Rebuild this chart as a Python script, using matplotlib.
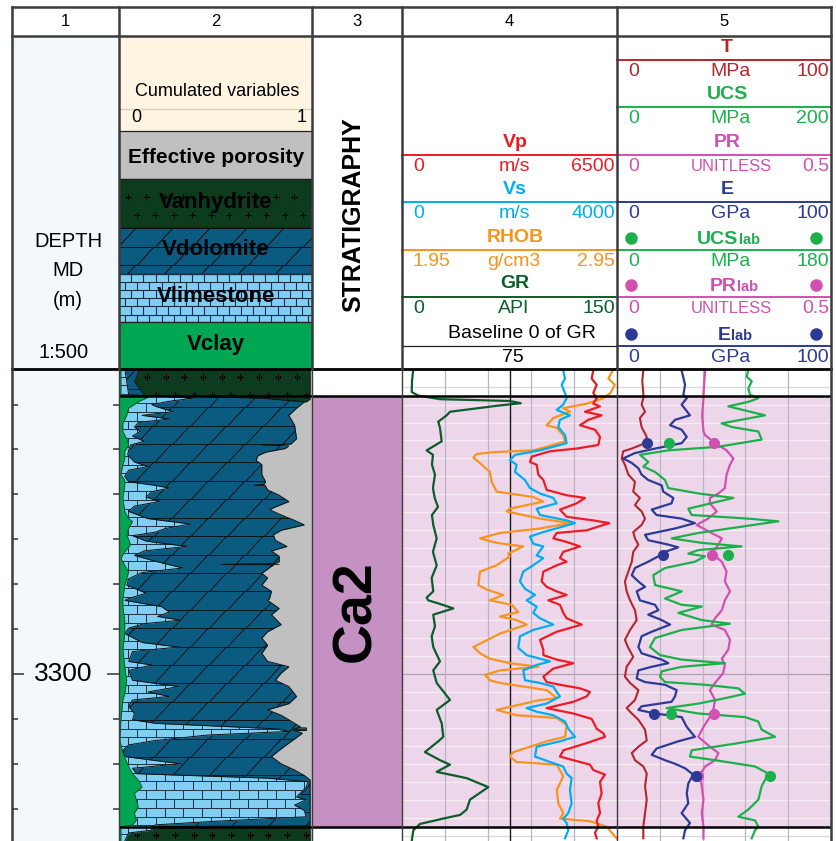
import numpy as np
import matplotlib
matplotlib.use("Agg")
import matplotlib.pyplot as plt
from matplotlib.collections import LineCollection
from matplotlib.patches import Rectangle
from matplotlib.path import Path

plt.rcParams['font.family'] = ['Liberation Sans', 'DejaVu Sans']

# ---------------------------------------------------------------- well data
zone_names = ['Ca2']
zone_top = [3269.0]
zone_base = [3317.0]

depth_major = [3300]
depth_minor = [3270, 3275, 3280, 3285, 3290, 3295, 3305, 3310, 3315]

vp_scale = (0, 6500)
vs_scale = (0, 4000)
rhob_scale = (1.95, 2.95)
gr_scale = (0, 150)
gr_baseline = 75
t_scale = (0, 100)
ucs_scale = (0, 200)
pr_scale = (0, 0.5)
e_scale = (0, 100)
ucs_lab_scale = (0, 180)
pr_lab_scale = (0, 0.5)
e_lab_scale = (0, 100)

# cumulated lithology fractions (left to right: clay, limestone, dolomite, anhydrite)
clay_depth = [3266.0, 3269.0, 3269.2, 3269.7, 3270.4, 3271.2, 3272.1, 3273.0, 3273.8, 3274.5,
              3275.2, 3276.0, 3276.7, 3277.8, 3278.4, 3279.0, 3280.4, 3281.9, 3282.7, 3283.0,
              3283.8, 3284.5, 3285.6, 3286.4, 3287.1, 3287.9, 3288.6, 3289.4, 3290.1, 3291.6,
              3292.5, 3294.0, 3295.5, 3297.3, 3299.2, 3300.7, 3302.2, 3302.9, 3305.1, 3307.4,
              3308.8, 3310.3, 3311.1, 3311.8, 3312.6, 3313.3, 3314.0, 3314.8, 3315.5, 3316.3,
              3316.8, 3317.0, 3318.6]
clay_cum = [0.01, 0.01, 0.15, 0.10, 0.05, 0.04, 0.02, 0.02, 0.04, 0.05,
            0.03, 0.03, 0.02, 0.01, 0.03, 0.03, 0.02, 0.03, 0.05, 0.07,
            0.05, 0.04, 0.06, 0.03, 0.01, 0.03, 0.05, 0.04, 0.03, 0.02,
            0.02, 0.03, 0.03, 0.02, 0.03, 0.04, 0.03, 0.02, 0.01, 0.005,
            0.02, 0.05, 0.07, 0.10, 0.12, 0.08, 0.09, 0.10, 0.08, 0.09,
            0.07, 0.01, 0.01]

lime_depth = [3266.0, 3268.9, 3269.2, 3269.3, 3269.6, 3270.0, 3270.2, 3270.8, 3271.2, 3271.6,
              3272.0, 3272.5, 3273.0, 3273.5, 3274.1, 3274.5, 3275.1, 3275.6, 3276.4, 3276.9,
              3277.3, 3278.0, 3278.6, 3279.0, 3279.3, 3279.7, 3280.3, 3280.8, 3281.3, 3281.9,
              3282.7, 3283.3, 3283.8, 3284.2, 3284.6, 3285.2, 3285.8, 3286.3, 3286.8, 3287.4,
              3288.2, 3288.7, 3289.4, 3290.1, 3291.0, 3291.6,
              3291.8, 3292.5, 3293.1, 3293.6, 3294.0, 3294.4, 3294.9, 3295.5, 3296.5, 3297.0,
              3297.5, 3298.6, 3299.0, 3299.6, 3300.7, 3301.4, 3302.0, 3302.5, 3302.9, 3303.6,
              3304.4, 3305.1, 3305.5, 3306.1, 3306.4, 3306.8, 3307.4, 3307.9, 3308.5, 3309.2,
              3310.0, 3310.5, 3311.1, 3311.6, 3312.0, 3312.6, 3313.7, 3314.0, 3314.6, 3315.2,
              3315.9, 3316.4, 3316.8, 3317.0, 3317.4, 3317.7, 3318.6]
lime_cum = [0.03, 0.05, 0.32, 0.38, 0.27, 0.17, 0.19, 0.28, 0.12, 0.26,
            0.10, 0.08, 0.11, 0.07, 0.13, 0.06, 0.05, 0.045, 0.08, 0.15,
            0.05, 0.03, 0.05, 0.19, 0.26, 0.17, 0.14, 0.21, 0.08, 0.05,
            0.15, 0.37, 0.24, 0.19, 0.07, 0.14, 0.35, 0.13, 0.08, 0.18,
            0.33, 0.12, 0.05, 0.04, 0.14, 0.05,
            0.03, 0.22, 0.26, 0.20, 0.32, 0.13, 0.05, 0.03, 0.12, 0.31,
            0.07, 0.05, 0.17, 0.05, 0.07, 0.31, 0.15, 0.26, 0.07, 0.05,
            0.08, 0.07, 0.19, 0.81, 0.88, 0.46, 0.19, 0.05, 0.02, 0.03,
            0.32, 0.07, 0.09, 0.77, 0.98, 0.97, 0.92, 0.97, 0.91, 0.96,
            0.97, 0.50, 0.19, 0.17, 0.17, 0.05, 0.03]

dolo_depth = [3266.0, 3267.4, 3268.9, 3269.0, 3269.1, 3269.3, 3269.7, 3270.4, 3271.2, 3272.3,
              3273.8, 3274.4, 3274.5, 3274.6, 3274.9, 3275.3, 3275.7, 3276.2, 3276.7, 3277.8,
              3278.6, 3278.9, 3279.0, 3279.1, 3279.5, 3280.1, 3280.8, 3281.4, 3281.7, 3282.2,
              3282.9, 3283.4, 3284.0, 3284.5, 3285.1, 3285.8, 3286.3, 3286.9, 3287.5, 3287.7,
              3287.8, 3287.9, 3288.0, 3288.8, 3289.3, 3290.1, 3290.8, 3291.6, 3291.8, 3292.7,
              3293.4, 3294.5, 3295.3, 3296.0, 3296.8, 3297.7, 3298.6, 3299.2, 3299.9, 3300.7,
              3301.4, 3302.5, 3303.3, 3304.0, 3304.6, 3305.1, 3305.9, 3306.2, 3306.6, 3307.7,
              3308.5, 3309.2, 3310.0, 3310.7, 3311.3, 3311.8, 3316.9, 3317.0, 3317.4, 3317.7,
              3318.6]
dolo_cum = [0.11, 0.08, 0.13, 0.13, 0.40, 0.75, 0.96, 0.92, 0.88, 0.91,
            0.92, 0.89, 0.74, 0.88, 0.86, 0.76, 0.72, 0.71, 0.74, 0.74,
            0.76, 0.75, 0.70, 0.76, 0.77, 0.83, 0.88, 0.81, 0.78, 0.83,
            0.91, 0.96, 0.84, 0.80, 0.81, 0.87, 0.79, 0.83, 0.83, 0.81,
            0.53, 0.80, 0.79, 0.74, 0.77, 0.74, 0.79, 0.78, 0.77, 0.83,
            0.79, 0.84, 0.77, 0.74, 0.77, 0.74, 0.77, 0.88, 0.84, 0.81,
            0.88, 0.92, 0.88, 0.77, 0.84, 0.88, 0.94, 0.90, 0.95, 0.88,
            0.83, 0.79, 0.84, 0.91, 0.96, 0.99, 0.99, 0.17, 0.17, 0.05,
            0.03]

anhy_depth = [3266.0, 3269.0, 3269.4, 3269.7, 3269.8, 3274.3, 3274.5, 3274.7, 3278.8, 3279.0,
              3279.2, 3287.6, 3287.8, 3288.0, 3305.8, 3306.0, 3306.3, 3306.6, 3316.2, 3316.9,
              3318.6]
anhy_cum = [0.99, 0.99, 0.99, 0.97, 0.0, 0.0, 0.86, 0.0, 0.0, 0.76,
            0.0, 0.0, 0.83, 0.0, 0.0, 0.97, 0.97, 0.0, 0.0, 0.99,
            0.99]

# track 4 logs
vp_depth = [3266.2, 3267.1, 3267.8, 3268.7, 3269.3, 3269.9, 3270.2, 3270.8, 3271.2, 3271.7,
            3272.3, 3272.8, 3273.6, 3274.5, 3274.9, 3275.2, 3275.8, 3276.4, 3276.7, 3277.8,
            3278.4, 3279.5, 3280.1, 3280.4, 3281.0, 3281.7, 3282.5, 3282.9, 3283.2, 3284.0,
            3284.3, 3284.9, 3285.3, 3285.8, 3286.4, 3287.1, 3287.5, 3287.9, 3288.6, 3289.7,
            3290.3, 3290.8, 3291.2, 3291.8, 3292.3, 3293.2, 3293.8, 3294.5, 3295.3, 3296.2,
            3297.3, 3297.9, 3298.4, 3298.8, 3299.4, 3300.3, 3300.9, 3301.2, 3301.6, 3302.0,
            3302.5, 3303.1, 3303.8, 3304.4, 3305.0, 3306.1, 3306.6, 3307.0, 3307.7, 3308.5,
            3309.2, 3309.6, 3310.1, 3310.7, 3311.2, 3312.0, 3313.3, 3314.4, 3315.5, 3316.3,
            3317.0, 3317.7, 3318.3]
vp = [5783, 5734, 5885, 5783, 5885, 5783, 5986, 5532, 6036, 5633,
      5381, 5834, 5986, 5935, 5280, 4474, 3921, 3869, 4071, 4122,
      4273, 4374, 4978, 5532, 5280, 4776, 4978, 5783, 6267, 5583,
      4676, 4575, 4978, 5381, 4877, 4776, 4978, 4676, 4273, 4223,
      4374, 4676, 4978, 4424, 4776, 4877, 4978, 5432, 4676, 4172,
      4273, 4273, 4676, 5179, 4575, 4273, 4374, 4776, 5381, 5683,
      5583, 5179, 4374, 5179, 5734, 5885, 6086, 6136, 5583, 4877,
      4776, 5179, 5683, 5783, 6136, 5986, 6036, 5935, 5986, 5885,
      5935, 5834, 5885]

vs_depth = [3266.2, 3267.1, 3267.8, 3268.7, 3269.3, 3270.0, 3270.6, 3271.2, 3271.7, 3272.5,
            3273.4, 3274.3, 3275.1, 3275.6, 3276.2, 3276.7, 3277.5, 3278.4, 3279.3, 3279.9,
            3280.4, 3281.0, 3281.6, 3282.3, 3282.9, 3283.2, 3284.2, 3284.7, 3285.5, 3285.8,
            3286.8, 3287.1, 3287.9, 3288.6, 3289.7, 3290.5, 3291.2, 3291.8, 3292.5, 3293.2,
            3293.8, 3294.5, 3295.1, 3295.8, 3297.1, 3297.9, 3298.6, 3299.0, 3299.6, 3300.7,
            3301.0, 3301.4, 3302.0, 3302.5, 3303.3, 3303.8, 3304.2, 3304.6, 3305.3, 3306.1,
            3307.0, 3307.5, 3308.1, 3309.2, 3309.8, 3310.3, 3311.1, 3311.6, 3312.9, 3314.4,
            3315.5, 3316.1, 3316.6, 3317.4, 3318.3]
vs = [3000, 3032, 2970, 3032, 3063, 3000, 2877, 3125, 2939, 2907,
      3032, 3063, 2567, 2102, 2009, 2133, 2102, 2288, 2381, 2567,
      2814, 2877, 2505, 2567, 3063, 3218, 2628, 2381, 2442, 2628,
      2505, 2628, 2442, 2256, 2195, 2288, 2474, 2319, 2505, 2442,
      2567, 2814, 2442, 2195, 2163, 2319, 2753, 2505, 2256, 2288,
      2567, 2814, 2877, 2939, 2691, 2319, 2505, 2814, 3032, 3094,
      3218, 2939, 2505, 2474, 2753, 3000, 3063, 3156, 3125, 3156,
      3094, 3000, 3063, 3094, 3032]

rhob_depth = [3266.2, 3267.1, 3267.8, 3268.7, 3269.3, 3269.9, 3270.4, 3270.8, 3271.5, 3272.3,
              3272.6, 3273.4, 3274.1, 3274.7, 3275.1, 3275.3, 3275.5, 3275.9, 3276.7, 3277.5,
              3278.6, 3279.7, 3280.3, 3280.8, 3281.6, 3281.9, 3282.7, 3283.2, 3283.8, 3284.3,
              3284.9, 3285.4, 3285.8, 3286.6, 3286.9, 3287.9, 3288.6, 3290.1, 3290.6, 3291.2,
              3291.8, 3292.3, 3293.1, 3293.6, 3294.0, 3294.5, 3295.5, 3297.0, 3297.7, 3298.3,
              3298.8, 3299.2, 3299.6, 3300.1, 3300.7, 3301.0, 3301.8, 3302.7, 3302.9, 3304.0,
              3304.6, 3304.9, 3305.7, 3307.0, 3307.5, 3308.7, 3309.2, 3309.8, 3310.1, 3311.4,
              3312.9, 3314.4, 3315.5, 3316.1, 3316.4, 3317.0, 3318.3, 3318.7]
rhob = [2.93, 2.91, 2.94, 2.92, 2.886, 2.809, 2.700, 2.731, 2.654, 2.623,
        2.670, 2.700, 2.708, 2.623, 2.561, 2.375, 2.297, 2.282, 2.321, 2.359,
        2.367, 2.390, 2.561, 2.607, 2.452, 2.437, 2.592, 2.731, 2.592, 2.406,
        2.313, 2.390, 2.514, 2.444, 2.452, 2.390, 2.313, 2.305, 2.344, 2.421,
        2.359, 2.460, 2.491, 2.406, 2.483, 2.530, 2.406, 2.282, 2.313, 2.359,
        2.452, 2.584, 2.406, 2.336, 2.359, 2.406, 2.623, 2.670, 2.592, 2.390,
        2.483, 2.670, 2.716, 2.708, 2.623, 2.468, 2.452, 2.483, 2.670, 2.700,
        2.670, 2.677, 2.700, 2.685, 2.824, 2.902, 2.948, 2.99]

gr_depth = [3266.0, 3267.3, 3268.6, 3269.0, 3269.4, 3269.6, 3269.85, 3270.1, 3270.8, 3271.2,
            3271.9, 3272.6, 3274.1, 3275.1, 3275.6, 3276.7, 3277.8, 3279.3, 3280.4, 3281.4,
            3282.3, 3283.4, 3284.9, 3286.4, 3287.9, 3289.3, 3290.8, 3291.5, 3291.8, 3292.2,
            3292.7, 3293.4, 3294.7, 3295.8, 3297.0, 3298.6, 3299.6, 3301.0, 3302.9, 3304.0,
            3305.5, 3307.0, 3307.5, 3308.7, 3309.6, 3310.1, 3310.9, 3311.6, 3312.6, 3314.0,
            3315.1, 3315.7, 3316.1, 3316.7, 3317.4, 3318.6]
gr = [7.9, 7.0, 6.8, 11.2, 26.5, 75, 82.8, 68, 33.5, 31.2,
      25.3, 26.5, 27.7, 17.2, 21.6, 20.9, 23, 21.6, 22.8, 25.1,
      20.9, 21.8, 24.2, 21.6, 24.2, 20.7, 21.8, 17.2, 18.3, 26.5,
      35.8, 21.8, 23, 20.7, 21.8, 26.5, 21.8, 24.2, 33.5, 24.2,
      27.7, 28.8, 25.3, 16, 26.5, 33.5, 24.2, 45.1, 60.2, 47.4,
      45.1, 40.5, 28.8, 12.6, 7.9, 6.8]

# track 5 geomechanics
t_depth = [3266.2, 3267.4, 3268.7, 3269.3, 3270.0, 3270.8, 3271.5, 3272.5, 3273.6, 3274.3,
           3274.9, 3275.2, 3276.0, 3276.7, 3277.8, 3278.6, 3279.7, 3280.4, 3281.2, 3281.9,
           3282.7, 3283.4, 3284.2, 3284.9, 3285.6, 3286.4, 3287.5, 3288.6, 3289.7, 3290.8,
           3291.8, 3292.9, 3294.0, 3295.1, 3296.2, 3297.1, 3298.1, 3299.2, 3300.3, 3301.0,
           3301.8, 3302.9, 3303.8, 3304.4, 3305.1, 3306.2, 3307.4, 3308.1, 3308.8, 3309.6,
           3310.3, 3311.1, 3312.5, 3314.0, 3315.5, 3317.0, 3318.3]
t_mpa = [12.3, 11.8, 12.3, 12.3, 11.5, 13.1, 10.7, 11.5, 13.9, 13.1,
         6.9, 2.9, 2.2, 3.7, 5.3, 8.4, 7.6, 10.7, 8.4, 11.5,
         13.1, 11.5, 7.6, 8.4, 10.0, 7.6, 6.9, 5.3, 3.7, 4.5,
         6.1, 8.4, 9.2, 6.1, 3.7, 5.3, 7.6, 4.5, 3.7, 6.1,
         10.0, 8.4, 4.5, 6.9, 10.0, 13.1, 13.9, 10.0, 6.9, 8.4,
         12.3, 13.9, 13.1, 13.9, 13.1, 12.3, 12.3]

e_depth = [3266.2, 3267.8, 3268.9, 3269.3, 3270.0, 3271.2, 3271.7, 3272.3, 3272.8, 3273.6,
           3274.3, 3274.9, 3275.4, 3276.0, 3276.5, 3277.1, 3277.8, 3278.4, 3279.0, 3279.7,
           3280.4, 3281.0, 3281.7, 3282.3, 3282.7, 3283.2, 3283.8, 3284.5, 3285.1, 3285.6,
           3285.9, 3286.4, 3286.9, 3287.5, 3288.2, 3289.0, 3289.7, 3290.3, 3290.8, 3291.8,
           3292.3, 3292.9, 3293.4, 3294.0, 3294.5, 3295.3, 3295.8, 3297.0, 3297.7, 3298.4,
           3298.8, 3299.2, 3299.6, 3300.5, 3300.9, 3301.2, 3301.8, 3302.5, 3303.1, 3303.6,
           3304.0, 3304.4, 3304.8, 3305.9, 3307.0, 3307.5, 3308.3, 3309.0, 3309.6, 3310.0,
           3310.5, 3311.2, 3312.2, 3313.3, 3314.4, 3315.5, 3316.6, 3317.4, 3318.3]
e_gpa = [30.2, 31.8, 31.0, 32.6, 30.2, 34.1, 27.1, 24.8, 30.2, 32.6,
         30.2, 17.8, 8.4, 2.9, 6.9, 10.0, 11.5, 14.6, 20.9, 21.6,
         26.3, 25.5, 16.2, 18.5, 30.2, 36.4, 27.1, 13.1, 14.6, 24.0,
         28.6, 22.4, 19.3, 14.6, 8.4, 6.9, 10.0, 13.1, 9.2, 10.7,
         17.8, 19.3, 14.6, 20.9, 24.8, 16.2, 11.5, 10.0, 11.5, 20.9,
         24.0, 16.2, 10.0, 9.2, 13.1, 22.4, 27.9, 27.1, 25.5, 11.5,
         10.0, 17.8, 30.2, 32.6, 36.4, 28.6, 18.5, 16.2, 22.4, 27.1,
         31.8, 35.6, 33.3, 32.6, 33.3, 30.2, 34.1, 31.8, 31.0]

pr_depth = [3266.2, 3267.4, 3268.9, 3269.3, 3271.2, 3273.0, 3273.4, 3274.3, 3275.1, 3276.0,
            3276.7, 3277.8, 3279.3, 3279.9, 3280.4, 3281.0, 3281.9, 3282.7, 3283.4, 3284.2,
            3284.9, 3285.6, 3286.6, 3287.5, 3288.6, 3289.7, 3290.8, 3291.8, 3292.9, 3293.8,
            3294.5, 3295.1, 3296.2, 3297.3, 3298.3, 3299.0, 3299.9, 3301.0, 3301.8, 3302.9,
            3304.0, 3304.8, 3305.9, 3307.0, 3308.1, 3308.8, 3309.6, 3310.3, 3311.2, 3312.5,
            3314.0, 3315.5, 3317.0, 3318.3]
pr = [0.206, 0.204, 0.202, 0.202, 0.199, 0.202, 0.206, 0.229, 0.256, 0.272,
      0.264, 0.256, 0.252, 0.237, 0.217, 0.217, 0.233, 0.213, 0.186, 0.217,
      0.245, 0.237, 0.221, 0.245, 0.256, 0.252, 0.264, 0.252, 0.245, 0.229,
      0.221, 0.252, 0.264, 0.260, 0.245, 0.252, 0.248, 0.229, 0.217, 0.229,
      0.225, 0.217, 0.202, 0.190, 0.217, 0.237, 0.229, 0.206, 0.194, 0.198,
      0.202, 0.198, 0.202, 0.202]

ucs_depth = [3266.2, 3266.9, 3267.4, 3268.2, 3268.9, 3269.3, 3269.7, 3270.2, 3271.2, 3272.1,
             3272.5, 3273.0, 3273.9, 3274.7, 3275.1, 3275.6, 3276.4, 3276.9, 3277.5, 3278.4,
             3279.3, 3279.9, 3280.4, 3281.6, 3282.3, 3282.7, 3283.0, 3284.3, 3284.9, 3285.4,
             3285.8, 3286.2, 3286.6, 3286.9, 3287.5, 3288.2, 3289.0, 3290.1, 3290.8, 3291.6,
             3292.3, 3292.5, 3293.2, 3294.0, 3294.4, 3295.1, 3296.0, 3297.0, 3297.9, 3298.4,
             3298.8, 3299.2, 3299.7, 3300.3, 3300.9, 3301.2, 3301.6, 3302.2, 3302.7, 3303.3,
             3303.8, 3304.4, 3304.8, 3305.3, 3306.2, 3307.0, 3307.7, 3308.5, 3309.2, 3309.6,
             3310.3, 3311.1, 3312.5, 3314.0, 3315.1, 3315.9, 3316.3, 3317.0, 3317.4, 3318.3]
ucs = [122.7, 121.2, 125.9, 122.7, 124.3, 132.1, 122.7, 104.0, 138.3, 97.8,
       107.2, 132.1, 135.2, 94.7, 47.9, 21.5, 29.3, 24.6, 35.5, 44.9,
       47.9, 76.0, 108.7, 66.6, 69.8, 122.7, 150.8, 76.0, 51.1, 79.2,
       116.5, 76.0, 66.6, 82.2, 72.9, 44.9, 33.9, 35.5, 60.5, 44.9,
       60.5, 79.2, 57.3, 79.2, 105.6, 60.5, 35.5, 30.8, 40.2, 60.5,
       100.9, 60.5, 41.8, 40.2, 44.9, 82.2, 113.4, 119.6, 100.9, 76.0,
       46.4, 76.0, 119.6, 132.1, 135.2, 147.7, 113.4, 69.8, 68.2, 91.6,
       129.0, 141.4, 135.2, 132.1, 122.7, 113.4, 129.0, 132.1, 129.0, 125.9]

# core laboratory measurements
lab_depth = [3274.3, 3286.7, 3304.5, 3311.4]
ucs_lab = [43.7, 93.6, 45.4, 128.7]
pr_lab = [0.227, 0.221, 0.227, 0.190]
e_lab = [14.2, 21.6, 17.4, 36.9]

# ---------------------------------------------------------------- styling
C_VP, C_VS, C_RHOB, C_GR = '#ed1c24', '#00aeef', '#f7941d', '#0b5d2a'
C_T, C_UCS, C_PR, C_E = '#b3262c', '#1cb04c', '#d250b0', '#2d3a95'
C_PORO, C_ANHY, C_DOLO, C_LIME, C_CLAY = '#c0c0c0', '#0c3b1e', '#0b5a80', '#80cff2', '#00a651'
C_STRAT, C_PINK, C_DEPTHBG, C_CREAM = '#c591c3', '#edd6ea', '#f3f8fd', '#fdf5e2'
C_FRAME = '#3c3c3c'

W, H = 836, 841
fig = plt.figure(figsize=(W / 100, H / 100), dpi=100)

COL_X = [12, 119, 312, 402, 617, 831]
Y_TOP, Y_HEAD, Y_DATA = 7, 36, 369
DEPTH_TOP, DEPTH_BASE = 3266.04, 3318.6


def px_axes(x0, x1, y0, y1, z):
    ax = fig.add_axes([x0 / W, 1 - y1 / H, (x1 - x0) / W, (y1 - y0) / H])
    ax.set_zorder(z)
    ax.set_axis_off()
    return ax


def track(col, xlim=(0, 1), z=1):
    ax = px_axes(COL_X[col], COL_X[col + 1], Y_DATA, H, z)
    ax.set_xlim(*xlim)
    ax.set_ylim(DEPTH_BASE, DEPTH_TOP)
    return ax


def clip_to(artist, fill):
    paths = fill.get_paths()
    path = Path.make_compound_path(*paths) if len(paths) > 1 else paths[0]
    artist.set_clip_path(path, fill.get_transform())


def dolomite_segments(y0, y1, x0, x1, row, step, width):
    segs, k, y = [], 0, y0
    while y < y1:
        segs.append([(x0, y), (x1, y)])
        xs = x0 - step + (step / 2) * (k % 2)
        while xs < x1:
            segs.append([(xs, y + row), (xs + width, y)])
            xs += step
        y += row
        k += 1
    return segs


def brick_segments(y0, y1, x0, x1, row, step):
    segs, k, y = [], 0, y0
    while y < y1:
        segs.append([(x0, y), (x1, y)])
        xs = x0 + (step / 2) * (k % 2)
        while xs < x1:
            segs.append([(xs, y), (xs, y + row)])
            xs += step
        y += row
        k += 1
    return segs


def cross_points(y0, y1, x0, x1, row, step):
    pts, k, y = [], 0, y0
    while y < y1:
        xs = x0 + (step / 2) * (k % 2)
        while xs < x1:
            pts.append((xs, y))
            xs += step
        y += row
        k += 1
    return np.array(pts)


# ---------------------------------------------------------------- header canvas
bg = px_axes(0, W, 0, H, 0)
bg.set_xlim(0, W)
bg.set_ylim(H, 0)


def htext(x, y, s, size=14, color='black', weight='normal', ha='center', **kw):
    bg.text(x, y, s, fontsize=size, color=color, fontweight=weight, ha=ha, va='center', **kw)


bg.add_patch(Rectangle((COL_X[0], Y_HEAD), COL_X[1] - COL_X[0], H - Y_HEAD,
                       facecolor=C_DEPTHBG, lw=0))
for i, lab in enumerate(['1', '2', '3', '4', '5']):
    htext((COL_X[i] + COL_X[i + 1]) / 2, 21.5, lab, size=12)

# track 1 header
htext(68, 241, 'DEPTH', size=14.5)
htext(68, 271, 'MD', size=14.5)
htext(68, 300, '(m)', size=14.5)
htext(64, 352, '1:500', size=14.5)

# track 2 header (lithology legend)
bg.add_patch(Rectangle((119, Y_HEAD), 193, 131 - Y_HEAD, facecolor=C_CREAM, lw=0))
htext(217, 91, 'Cumulated variables', size=13)
bg.plot([119, 312], [108.5, 108.5], color='#d8cfba', lw=1.0)
htext(131, 117.5, f'{0:g}', size=13, ha='left')
htext(307, 117.5, f'{1:g}', size=13, ha='right')

litho_labels = ['Effective porosity', 'Vanhydrite', 'Vdolomite', 'Vlimestone', 'Vclay']
litho_colors = [C_PORO, C_ANHY, C_DOLO, C_LIME, C_CLAY]
box_edges = [131, 178.5, 226.5, 274, 321.5, 369]
boxes = []
for i, (lab, c) in enumerate(zip(litho_labels, litho_colors)):
    y0, y1 = box_edges[i], box_edges[i + 1]
    r = Rectangle((119, y0), 193, y1 - y0, facecolor=c, edgecolor='#222222', lw=0.9, zorder=1)
    bg.add_patch(r)
    boxes.append(r)

pts = cross_points(196.7, 226, 127.7, 310, 18.3, 18.5)
sc = bg.scatter(pts[:, 0], pts[:, 1], marker='+', s=16, c='black', linewidths=0.8, zorder=2)
sc.set_clip_path(boxes[1])
lc = LineCollection(dolomite_segments(228, 274, 119, 312, 18.5, 37, 17),
                    colors='#0d0d0d', linewidths=0.7, zorder=2)
bg.add_collection(lc)
lc.set_clip_path(boxes[2])
lc = LineCollection(brick_segments(274, 321.5, 119, 312, 8.1, 12.2),
                    colors='#1c2f44', linewidths=0.8, zorder=2)
bg.add_collection(lc)
lc.set_clip_path(boxes[3])

label_y = [157, 202.5, 249, 296.5, 344]
for lab, y in zip(litho_labels, label_y):
    htext(216, y, lab, size=15 if lab == 'Effective porosity' else 16, weight='bold', zorder=3)

# track 3 header
htext(353, 215, 'STRATIGRAPHY', size=18, weight='bold', rotation=90)

# track 4 header
col4_rows = [('Vp', C_VP, vp_scale, 'm/s', 155),
             ('Vs', C_VS, vs_scale, 'm/s', 202),
             ('RHOB', C_RHOB, rhob_scale, 'g/cm3', 250),
             ('GR', C_GR, gr_scale, 'API', 297)]
for name, c, sc_, unit, ly in col4_rows:
    bg.plot([402, 617], [ly, ly], color=c, lw=1.4)
    htext(515, ly - 13, name, color=c, weight='bold')
    htext(413, ly + 11.5, f'{sc_[0]:g}', color=c, ha='left')
    htext(514, ly + 11.5, unit, color=c)
    htext(615, ly + 11.5, f'{sc_[1]:g}', color=c, ha='right')
htext(522, 333, 'Baseline 0 of GR')
bg.plot([402, 617], [346, 346], color='#222222', lw=0.9)
htext(513, 357.5, f'{gr_baseline:g}')

# track 5 header
col5_rows = [('T', '', C_T, t_scale, 'MPa', 60),
             ('UCS', '', C_UCS, ucs_scale, 'MPa', 107),
             ('PR', '', C_PR, pr_scale, 'UNITLESS', 155),
             ('E', '', C_E, e_scale, 'GPa', 202),
             ('UCS', 'lab', C_UCS, ucs_lab_scale, 'MPa', 250),
             ('PR', 'lab', C_PR, pr_lab_scale, 'UNITLESS', 297),
             ('E', 'lab', C_E, e_lab_scale, 'GPa', 346)]
lab_join = {'UCS': 738, 'PR': 737, 'E': 731}
for name, sub, c, sc_, unit, ly in col5_rows:
    bg.plot([617, 831], [ly, ly], color=c, lw=1.4)
    if sub:
        yb = ly - 13 + 7
        bg.text(lab_join[name], yb, name, fontsize=14, fontweight='bold', color=c,
                ha='right', va='baseline')
        bg.text(lab_join[name] + 0.5, yb, sub, fontsize=10.5, fontweight='bold', color=c,
                ha='left', va='baseline')
        bg.plot([631, 816], [ly - 12, ly - 12], 'o', color=c, ms=8, ls='none')
    else:
        htext(727, ly - 12.5, name, color=c, weight='bold')
    usize = 12 if unit == 'UNITLESS' else 14
    htext(628, ly + 11.5, f'{sc_[0]:g}', color=c, ha='left')
    htext(731, ly + 11.5, unit, color=c, size=usize)
    htext(829, ly + 11.5, f'{sc_[1]:g}', color=c, ha='right')

# ---------------------------------------------------------------- track 1: depth
ax1 = track(0)
ax1.set_axis_on()
ax1.patch.set_visible(False)
for s in ax1.spines.values():
    s.set_visible(False)
ax1.set_xticks([])
ax1.set_yticks(depth_major)
ax1.set_yticks(depth_minor, minor=True)
ax1.tick_params(axis='y', which='both', left=True, right=True, direction='in',
                color='#333333', width=1.1, labelleft=False, labelright=False)
ax1.tick_params(axis='y', which='major', length=8.5)
ax1.tick_params(axis='y', which='minor', length=4.5)
for d in depth_major:
    ax1.text(0.48, d, f'{d}', transform=ax1.get_yaxis_transform(),
             ha='center', va='center', fontsize=19)

# ---------------------------------------------------------------- track 2: lithology
ax2 = track(1)
ax2.axvspan(0, 1, color=C_PORO, lw=0, zorder=0)

f_anhy = ax2.fill_betweenx(anhy_depth, 0, anhy_cum, color=C_ANHY, lw=0, zorder=1)
cp = cross_points(3266.9, DEPTH_BASE + 1, 0.047, 1.0, 2.04, 0.097)
sc = ax2.scatter(cp[:, 0], cp[:, 1], marker='+', s=14, c='black', linewidths=0.8, zorder=1.1)
clip_to(sc, f_anhy)
ax2.plot(anhy_cum, anhy_depth, color='#111111', lw=0.6, zorder=1.2)

f_dolo = ax2.fill_betweenx(dolo_depth, 0, dolo_cum, color=C_DOLO, lw=0, zorder=2)
lc = LineCollection(dolomite_segments(3264.15, DEPTH_BASE + 2, -0.1, 1.1, 2.05, 0.19, 0.088),
                    colors='#0a0a0a', linewidths=0.6, zorder=2.1)
ax2.add_collection(lc)
clip_to(lc, f_dolo)
ax2.plot(dolo_cum, dolo_depth, color='#111111', lw=0.7, zorder=2.2)

f_lime = ax2.fill_betweenx(lime_depth, 0, lime_cum, color=C_LIME, lw=0, zorder=3)
lc = LineCollection(brick_segments(3265.9, DEPTH_BASE + 1, -0.05, 1.05, 0.98, 0.096),
                    colors='#1c2f44', linewidths=0.7, zorder=3.1)
ax2.add_collection(lc)
clip_to(lc, f_lime)
ax2.plot(lime_cum, lime_depth, color='#111111', lw=0.7, zorder=3.2)

ax2.fill_betweenx(clay_depth, 0, clay_cum, color=C_CLAY, lw=0, zorder=4)
ax2.plot(clay_cum, clay_depth, color='#0d3d1d', lw=0.5, zorder=4.1)

# ---------------------------------------------------------------- track 3: stratigraphy
ax3 = track(2)
for name, top, base in zip(zone_names, zone_top, zone_base):
    ax3.axhspan(top, base, color=C_STRAT, lw=0)
    ax3.text(0.49, (top + base) / 2, name, rotation=90, fontsize=40, fontweight='bold',
             ha='center', va='center')


# ---------------------------------------------------------------- tracks 4 & 5: grids
def grid_track(col):
    ax = track(col)
    for top, base in zip(zone_top, zone_base):
        ax.axhspan(top, base, color=C_PINK, lw=0, zorder=0)
    for d in np.arange(3268, 3319, 2):
        inside = any(t <= d <= b for t, b in zip(zone_top, zone_base))
        if d % 50 == 0:
            c = '#a9a2b3'
        elif inside:
            c = '#f7eef5'
        else:
            c = '#dadade'
        ax.axhline(d, color=c, lw=0.9, zorder=1)
    for f in np.linspace(0, 1, 6)[1:-1]:
        ax.axvline(f, color='#bdb3c7', lw=0.9, zorder=1.5)
    return ax


grid_track(3)
a = track(3, gr_scale)
a.axvline(gr_baseline, color='#1a1a1a', lw=1.0, zorder=1)
a.plot(gr, gr_depth, color=C_GR, lw=1.6, zorder=2)
track(3, rhob_scale).plot(rhob, rhob_depth, color=C_RHOB, lw=1.6)
track(3, vs_scale).plot(vs, vs_depth, color=C_VS, lw=1.6)
track(3, vp_scale).plot(vp, vp_depth, color=C_VP, lw=1.6)

grid_track(4)
track(4, t_scale).plot(t_mpa, t_depth, color=C_T, lw=1.5)
track(4, e_scale).plot(e_gpa, e_depth, color=C_E, lw=1.6)
track(4, pr_scale).plot(pr, pr_depth, color=C_PR, lw=1.6)
track(4, ucs_scale).plot(ucs, ucs_depth, color=C_UCS, lw=1.6)
track(4, ucs_lab_scale).plot(ucs_lab, lab_depth, 'o', color=C_UCS, ms=7)
track(4, pr_lab_scale).plot(pr_lab, lab_depth, 'o', color=C_PR, ms=7)
track(4, e_lab_scale).plot(e_lab, lab_depth, 'o', color=C_E, ms=7)

# zone boundaries across the data tracks
zl = px_axes(COL_X[1], COL_X[5], Y_DATA, H, 4)
zl.set_xlim(0, 1)
zl.set_ylim(DEPTH_BASE, DEPTH_TOP)
for d in zone_top + zone_base:
    zl.axhline(d, color='black', lw=1.8)

# ---------------------------------------------------------------- frame
fg = px_axes(0, W, 0, H, 5)
fg.set_xlim(0, W)
fg.set_ylim(H, 0)
for y, lw, c in [(Y_TOP, 1.8, C_FRAME), (Y_HEAD, 1.8, C_FRAME), (Y_DATA, 2.0, 'black')]:
    fg.plot([COL_X[0], COL_X[-1]], [y, y], color=c, lw=lw, solid_capstyle='projecting')
for i, x in enumerate(COL_X):
    edge = i in (0, len(COL_X) - 1)
    fg.plot([x, x], [Y_TOP, Y_DATA], color=C_FRAME, lw=1.8)
    fg.plot([x, x], [Y_DATA, H], color=C_FRAME, lw=1.8 if edge else 1.0)

fig.savefig('out.png', dpi=100)
